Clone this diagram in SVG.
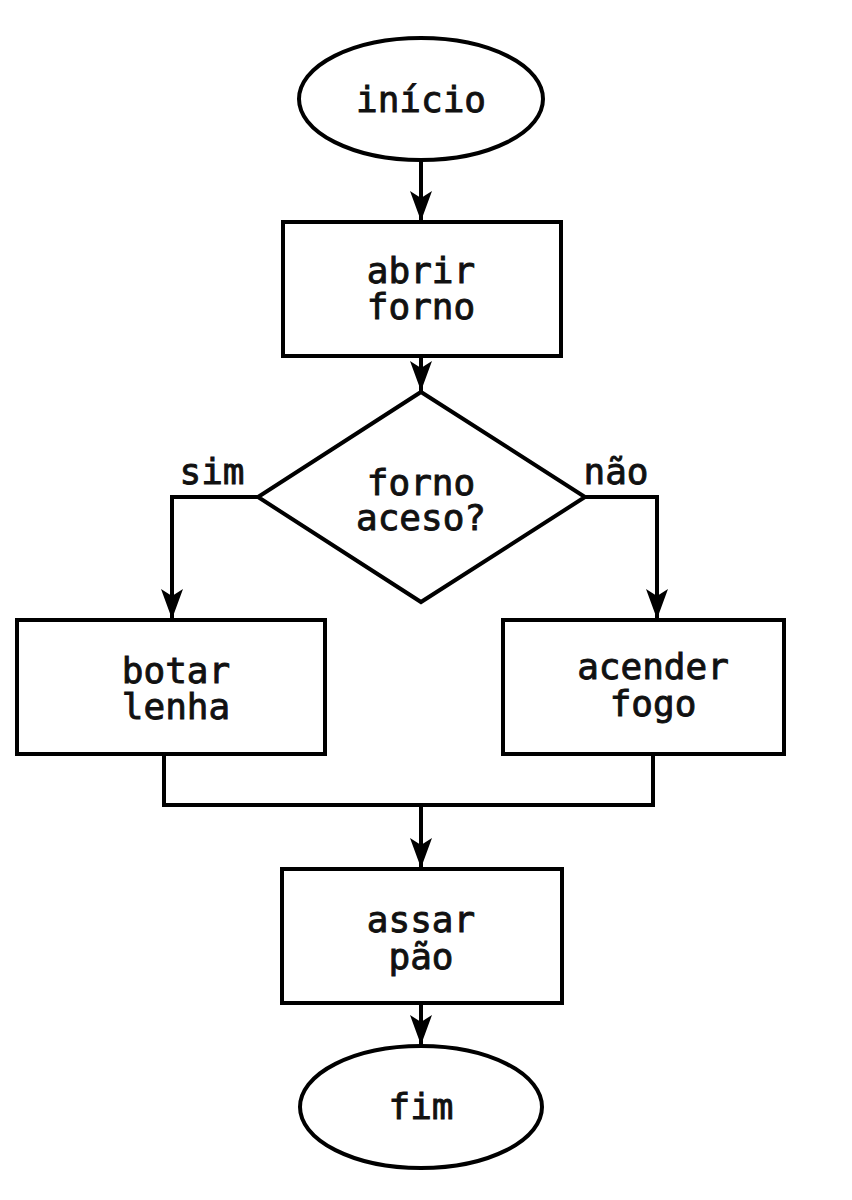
<svg xmlns="http://www.w3.org/2000/svg" width="852" height="1200" viewBox="0 0 852 1200">
<style>
.s{fill:#fff;stroke:#000;stroke-width:4}
.c{fill:none;stroke:#000;stroke-width:4}
text{font-family:"DejaVu Sans Mono","Liberation Mono",monospace;font-size:36px;fill:#111;stroke:#111;stroke-width:0.9;text-anchor:middle}
</style>
<defs>
<marker id="d" markerUnits="userSpaceOnUse" markerWidth="40" markerHeight="40" refX="0" refY="0" orient="auto" viewBox="-32 -20 40 40" overflow="visible">
<path d="M0,0 L-30,-11 L-23,0 L-30,11 Z" fill="#000"/>
</marker>
</defs>
<g id="connectors">
<line class="c" x1="421" y1="160" x2="421" y2="221" marker-end="url(#d)"/>
<line class="c" x1="421" y1="356" x2="421" y2="391" marker-end="url(#d)"/>
<polyline class="c" points="258,497 172,497 172,619" marker-end="url(#d)"/>
<polyline class="c" points="585,497 657,497 657,619" marker-end="url(#d)"/>
<polyline class="c" points="164,754 164,805 653,805 653,754"/>
<line class="c" x1="421" y1="805" x2="421" y2="868" marker-end="url(#d)"/>
<line class="c" x1="421" y1="1003" x2="421" y2="1045" marker-end="url(#d)"/>
<text x="212" y="484">sim</text>
<text x="616" y="484">não</text>
</g>
<g id="inicio">
<ellipse class="s" cx="421" cy="99" rx="122" ry="61"/>
<text x="421" y="112">início</text>
</g>
<g id="abrir">
<rect class="s" x="283" y="222" width="278" height="134"/>
<text x="421" y="283">abrir</text>
<text x="421" y="319">forno</text>
</g>
<g id="decisao">
<polygon class="s" points="421,392 585,497 421,602 258,497"/>
<text x="421" y="495">forno</text>
<text x="421" y="530">aceso?</text>
</g>
<g id="botar">
<rect class="s" x="17" y="620" width="308" height="134"/>
<text x="176" y="683">botar</text>
<text x="176" y="719">lenha</text>
</g>
<g id="acender">
<rect class="s" x="503" y="620" width="281" height="134"/>
<text x="653" y="679">acender</text>
<text x="653" y="716">fogo</text>
</g>
<g id="assar">
<rect class="s" x="282" y="869" width="280" height="134"/>
<text x="421" y="932">assar</text>
<text x="421" y="969">pão</text>
</g>
<g id="fim">
<ellipse class="s" cx="421" cy="1107" rx="121" ry="61"/>
<text x="421" y="1119">fim</text>
</g>
</svg>
